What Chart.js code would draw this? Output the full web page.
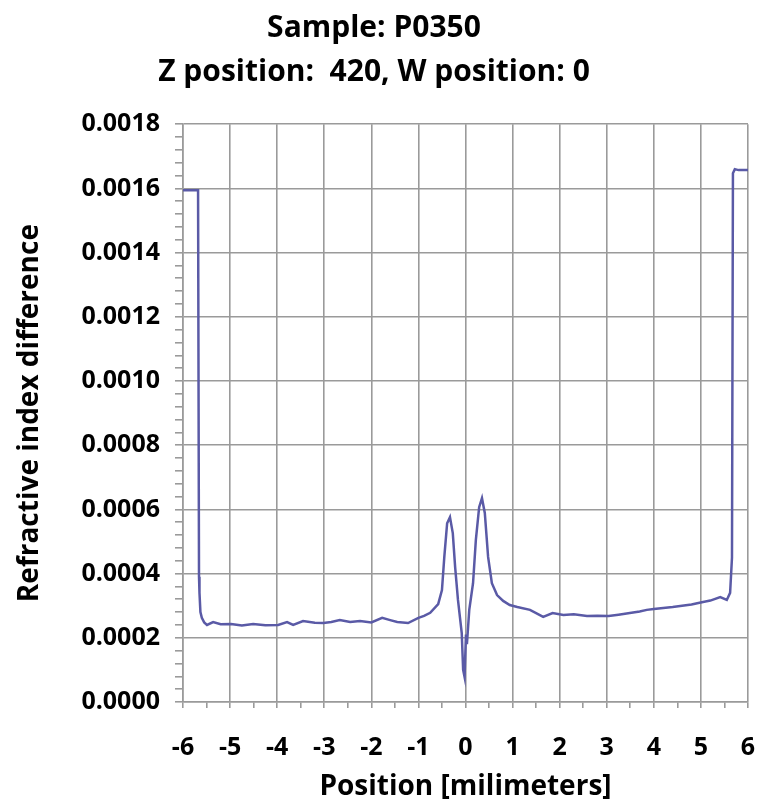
<!DOCTYPE html>
<html>
<head>
<meta charset="utf-8">
<script src="https://cdn.jsdelivr.net/npm/chart.js"></script>
<style>
  html, body { margin: 0; padding: 0; background: #fff; }
  #wrap { width: 760px; height: 801px; }
</style>
</head>
<body>
<div id="wrap"><canvas id="riChart" width="760" height="801"></canvas></div>
<script>
// values (position in mm, refractive index difference)
const positionMm = [
  -6, -5.68, -5.66, -5.65, -5.63, -5.6, -5.55, -5.49, -5.36, -5.2,
  -4.98, -4.75, -4.51, -4.25, -3.98, -3.79, -3.66, -3.45, -3.2, -3.02,
  -2.85, -2.67, -2.45, -2.24, -2.0, -1.77, -1.6, -1.45, -1.22, -1.0,
  -0.88, -0.75, -0.58, -0.5, -0.45, -0.39, -0.33, -0.27, -0.22, -0.16,
  -0.08, -0.05, -0.02, 0.01, 0.03, 0.08, 0.16, 0.22, 0.29, 0.35,
  0.41, 0.48, 0.56, 0.67, 0.8, 0.94, 1.1, 1.37, 1.65, 1.85,
  2.08, 2.3, 2.58, 2.8, 3.04, 3.25, 3.49, 3.7, 3.85, 4.0,
  4.2, 4.4, 4.56, 4.8, 5.02, 5.2, 5.41, 5.55, 5.62, 5.66,
  5.68, 5.72, 5.8, 6
];
const indexDiff = [
  0.001594, 0.001594, 0.00039, 0.00034, 0.00028, 0.000262, 0.000248, 0.00024, 0.000249, 0.000242,
  0.000243, 0.000238, 0.000243, 0.000239, 0.00024, 0.000249, 0.00024, 0.000252, 0.000247, 0.000246,
  0.000249, 0.000255, 0.000249, 0.000252, 0.000248, 0.000262, 0.000255, 0.000249, 0.000246, 0.000262,
  0.000268, 0.000278, 0.000305, 0.000349, 0.000452, 0.000557, 0.000576, 0.000526, 0.00042, 0.000318,
  0.000215, 0.0001, 0.000078, 0.00021, 0.00018, 0.000287, 0.00037, 0.000505, 0.000607, 0.000635,
  0.000589, 0.000452, 0.00037, 0.000333, 0.000315, 0.000302, 0.000296, 0.000287, 0.000265, 0.000277,
  0.000271, 0.000273, 0.000268, 0.000269, 0.000268, 0.000272, 0.000277, 0.000282, 0.000287, 0.00029,
  0.000293, 0.000296, 0.000299, 0.000304, 0.000311, 0.000316, 0.000327, 0.000318, 0.00034, 0.00045,
  0.001647, 0.00166, 0.001657, 0.001657
];
const titleLines = ["Sample: P0350", "Z position:  420, W position: 0"];
const xTitle = "Position [milimeters]";
const yTitle = "Refractive index difference";

const gray = "#9a9a9a";
const fontFam = "'Open Sans', 'DejaVu Sans', sans-serif";
const isWhole = (v, step) => Math.abs(v / step - Math.round(v / step)) < 1e-6;

new Chart(document.getElementById("riChart"), {
  type: "line",
  data: {
    datasets: [{
      data: positionMm.map((x, i) => ({ x: x, y: indexDiff[i] })),
      borderColor: "#5a5aa6",
      borderWidth: 2.5,
      pointRadius: 0,
      tension: 0,
      fill: false
    }]
  },
  options: {
    responsive: false,
    animation: false,
    layout: { padding: { left: 0, right: 12, top: 0, bottom: 0 } },
    plugins: {
      legend: { display: false },
      tooltip: { enabled: false },
      title: {
        display: true,
        text: titleLines,
        color: "#000",
        font: { family: fontFam, size: 30, weight: "bold", lineHeight: 1.47 },
        padding: { top: 6, bottom: 30 }
      }
    },
    scales: {
      x: {
        type: "linear",
        min: -6,
        max: 6,
        // keep the plot box fixed, labels may hang over the edges
        afterFit: s => { s.height = 99; s.paddingLeft = 0; s.paddingRight = 0; },
        ticks: {
          stepSize: 0.5,
          autoSkip: false,
          maxRotation: 0,
          padding: 25,
          color: "#000",
          font: { family: fontFam, size: 25, weight: "bold" },
          callback: v => isWhole(v, 1) ? String(Math.round(v)) : ""
        },
        grid: {
          color: c => (c.tick && isWhole(c.tick.value, 1)) ? gray : "rgba(0,0,0,0)",
          tickColor: gray,
          tickLength: 6,
          lineWidth: 1.6
        },
        border: { color: gray, width: 1.6 },
        title: {
          display: true,
          text: xTitle,
          color: "#000",
          font: { family: fontFam, size: 28, weight: "bold", lineHeight: 1 },
          padding: { top: 0, bottom: 0 }
        }
      },
      y: {
        min: 0,
        max: 0.0018,
        afterFit: s => { s.width = 183; },
        ticks: {
          stepSize: 0.00004,
          autoSkip: false,
          padding: 15,
          color: "#000",
          font: { family: fontFam, size: 25, weight: "bold" },
          callback: v => isWhole(v, 0.0002) ? v.toFixed(4) : ""
        },
        grid: {
          color: c => (c.tick && isWhole(c.tick.value, 0.0002)) ? gray : "rgba(0,0,0,0)",
          tickColor: gray,
          tickLength: 8,
          lineWidth: 1.6
        },
        border: { color: gray, width: 1.6 },
        title: {
          display: true,
          text: yTitle,
          color: "#000",
          font: { family: fontFam, size: 28, weight: "bold", lineHeight: 1.2 },
          padding: { top: 13, bottom: 0 }
        }
      }
    }
  }
});
</script>
</body>
</html>
